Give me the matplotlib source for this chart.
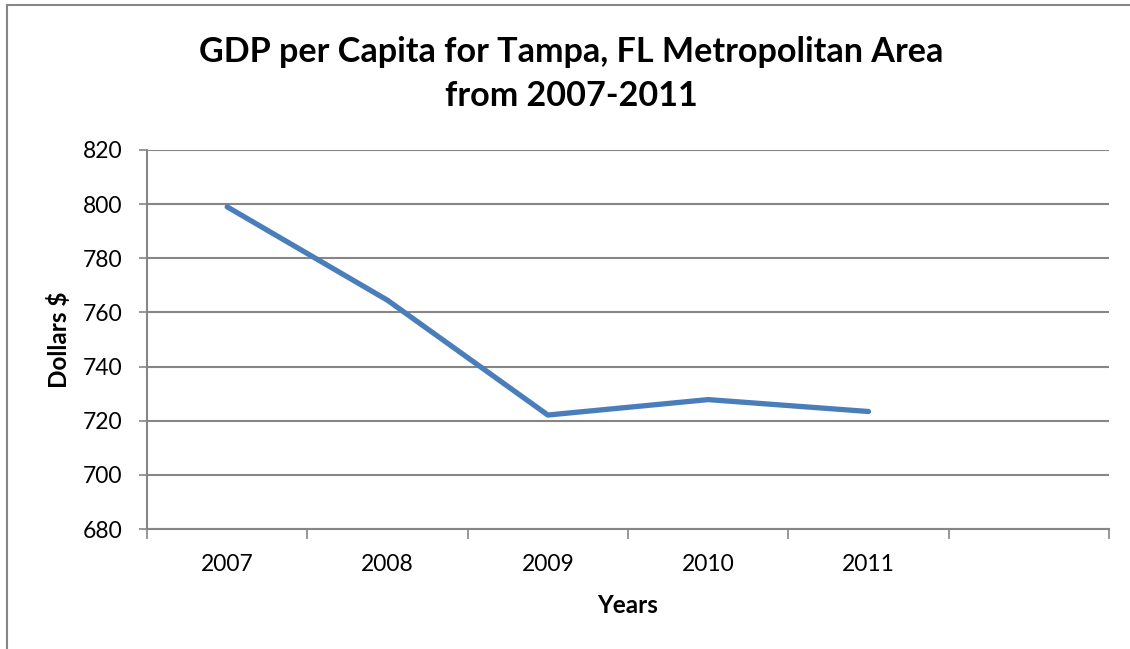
import matplotlib.pyplot as plt
from matplotlib.patches import Rectangle
from matplotlib.ticker import FixedLocator, NullFormatter

years = ["2007", "2008", "2009", "2010", "2011"]
gdp_per_capita = [799.0, 764.5, 722.1, 727.8, 723.4]
y_ticks = [680, 700, 720, 740, 760, 780, 800, 820]

plt.rcParams["font.family"] = ["Lato", "DejaVu Sans"]
grey = "#868686"

fig = plt.figure(figsize=(11.3, 6.49), dpi=100)
ax = fig.add_axes([147 / 1130, 1 - 529 / 649, 962 / 1130, 379 / 649])

# chart frame (cut off on the right and bottom)
fig.patches.append(Rectangle((7 / 1130, -0.5), 2.0, 1.5 - 5 / 649,
                             transform=fig.transFigure, fill=False,
                             edgecolor=grey, linewidth=1.5))

x = list(range(len(years)))
ax.plot(x, gdp_per_capita, color="#4a7ebb", linewidth=3.8,
        solid_capstyle="round", solid_joinstyle="round", zorder=3)

ax.set_xlim(-0.5, len(years) + 0.5)
ax.set_ylim(680, 820)
ax.set_yticks(y_ticks)
ax.set_xticks(x)
ax.set_xticklabels(years)
ax.xaxis.set_minor_locator(FixedLocator([i - 0.5 for i in range(len(years) + 2)]))
ax.xaxis.set_minor_formatter(NullFormatter())
ax.tick_params(axis="x", which="major", length=0, pad=18, labelsize=16.5)
ax.tick_params(axis="x", which="minor", length=7, width=1.2, color=grey)
ax.tick_params(axis="y", length=6, width=1.2, color=grey, pad=12, labelsize=16.5)

ax.grid(axis="y", color=grey, linewidth=1.5)
ax.set_axisbelow(True)
for side in ["top", "right"]:
    ax.spines[side].set_visible(False)
for side in ["left", "bottom"]:
    ax.spines[side].set_color(grey)
    ax.spines[side].set_linewidth(1.5)

ax.set_xlabel("Years", fontsize=17.5, fontweight="bold", labelpad=14)
ax.set_ylabel("Dollars $", fontsize=17.5, fontweight="bold", labelpad=8)
fig.text(571 / 1130, 1 - 74 / 649,
         "GDP per Capita for Tampa, FL Metropolitan Area\nfrom 2007-2011",
         ha="center", va="center", fontsize=24.6, fontweight="bold",
         linespacing=1.5)

fig.savefig("out.png", dpi=100)
